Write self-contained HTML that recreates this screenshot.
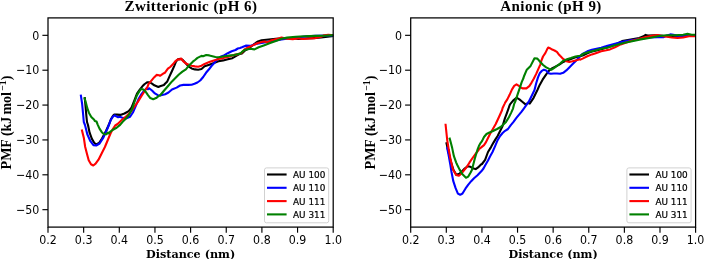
<!DOCTYPE html><html><head><meta charset="utf-8"><style>html,body{margin:0;padding:0;background:#fff;width:704px;height:259px;overflow:hidden}svg{display:block}.tk{stroke:#000;stroke-width:1.15}.tl{font-family:"DejaVu Sans",sans-serif;font-size:11.3px;fill:#000}.ti{font-family:"Liberation Serif",serif;font-weight:bold;font-size:15px;letter-spacing:0.47px;fill:#000}.xl{font-family:"DejaVu Serif",serif;font-weight:bold;font-size:11.2px;fill:#000}.yl{font-family:"Liberation Serif",serif;font-weight:bold;font-size:14px;fill:#000}.lg{font-family:"DejaVu Sans",sans-serif;font-size:8.9px;fill:#000;stroke:#000;stroke-width:0.2px}.c{fill:none;stroke-width:2.10;stroke-linejoin:round;stroke-linecap:square}</style></head><body>
<svg width="704" height="259" viewBox="0 0 704 259">
<clipPath id="cpL"><rect x="48.0" y="17.9" width="285.2" height="209.2"/></clipPath>
<g clip-path="url(#cpL)">
<polyline class="c" stroke="#000000" points="84.8,98.2 85.5,105.9 86.3,115.2 87.0,122.0 88.0,125.0 89.6,132.7 91.9,138.9 94.2,142.8 96.2,144.5 99.0,143.0 102.0,138.5 106.0,131.0 108.6,125.3 110.9,119.3 113.0,115.8 114.3,114.5 117.0,114.6 120.3,114.9 124.5,113.5 128.7,111.1 131.5,107.6 134.3,100.7 137.0,93.7 139.8,89.6 142.6,86.1 144.7,84.0 147.4,82.2 149.7,82.4 152.0,83.6 154.3,85.3 157.2,86.5 158.4,87.0 160.0,86.3 163.9,85.0 165.0,83.7 167.3,81.4 169.6,76.2 172.0,71.0 174.3,65.8 176.0,61.7 177.9,59.4 180.5,58.9 182.5,59.8 185.1,62.5 188.4,66.4 191.6,68.4 194.9,69.4 198.2,69.7 201.5,69.0 204.6,66.3 209.3,64.7 213.9,62.9 218.5,61.3 223.2,60.4 227.8,59.3 232.4,58.2 237.1,55.4 240.0,53.9 241.9,53.5 244.5,50.9 250.0,47.5 254.5,43.8 258.0,41.5 261.6,40.3 268.7,39.5 275.8,38.8 282.9,38.3 292.8,38.2 298.5,39.0 304.2,38.5 312.7,38.1 321.2,37.4 333.5,35.9"/>
<polyline class="c" stroke="#0000ff" points="80.9,95.7 82.1,103.6 83.2,115.2 83.8,122.0 85.0,125.0 87.3,134.3 90.4,141.2 93.4,145.1 96.2,145.5 99.6,143.5 103.5,137.4 106.6,130.4 107.3,129.0 108.5,126.0 110.8,119.9 113.1,116.4 114.7,115.3 116.2,116.4 118.1,117.2 120.0,116.8 121.7,117.4 125.9,118.6 130.1,116.7 132.9,112.5 135.6,106.3 138.4,99.3 141.2,94.4 144.0,91.0 146.2,88.6 148.0,89.2 149.1,88.2 152.0,90.5 154.9,93.4 157.8,95.2 160.0,95.5 165.2,94.2 168.5,92.5 172.0,89.5 176.6,87.6 180.1,85.5 183.5,84.9 188.2,84.9 191.6,84.7 194.5,83.8 197.4,82.5 200.2,80.5 203.2,77.0 206.0,72.8 209.0,69.3 211.5,66.0 213.8,63.5 217.0,59.6 220.1,57.0 224.4,55.2 227.8,53.2 231.7,51.3 235.5,50.0 237.8,48.5 240.0,48.0 241.9,47.3 245.7,45.8 245.9,45.6 250.2,45.9 255.9,43.9 264.4,42.4 272.9,40.9 281.5,39.5 290.0,38.3 298.5,37.2 307.0,36.3 315.5,35.7 333.5,35.4"/>
<polyline class="c" stroke="#ff0000" points="82.0,130.6 83.8,137.7 85.2,147.0 87.0,153.9 88.7,160.3 91.0,164.3 93.3,165.5 95.6,163.7 98.5,159.7 102.0,152.7 104.9,147.0 107.8,140.0 110.5,133.5 112.7,129.3 115.2,125.5 117.6,124.0 120.0,121.7 121.7,120.0 125.9,116.7 130.1,112.5 134.3,106.9 137.7,102.1 141.2,96.5 144.7,91.0 147.5,86.8 148.5,84.2 151.4,80.7 154.3,77.2 156.6,74.9 159.0,75.2 159.4,75.4 160.0,75.8 163.9,73.2 165.0,72.7 167.9,68.7 170.2,67.0 173.1,64.1 175.4,61.2 177.9,59.4 179.8,59.4 181.1,58.5 183.1,61.1 185.9,63.5 189.9,65.2 191.6,65.7 194.9,66.4 198.2,66.8 201.5,65.7 204.6,63.9 209.3,62.1 213.9,60.4 218.5,59.0 223.2,58.1 227.8,57.0 232.4,55.4 237.1,54.4 240.0,53.6 241.9,52.7 244.5,49.5 248.0,47.5 251.6,45.9 257.3,43.2 262.7,41.8 264.4,41.6 267.3,42.3 271.5,40.2 278.6,38.5 281.5,37.6 287.1,38.7 292.8,39.1 298.5,38.2 302.8,39.0 309.9,38.5 315.5,38.1 321.2,36.7 324.1,35.3 328.3,34.8 333.5,35.2"/>
<polyline class="c" stroke="#008000" points="84.6,98.4 86.1,103.6 87.3,108.2 89.0,112.9 91.3,116.9 94.2,119.8 94.8,120.9 96.5,121.5 97.7,124.6 99.5,128.7 101.8,132.2 104.1,134.2 106.4,134.2 108.0,132.5 108.9,133.5 110.0,131.8 112.5,130.0 116.6,127.8 120.1,124.9 123.5,120.9 124.5,120.0 128.7,115.3 132.2,109.0 134.9,100.7 137.0,95.1 139.1,91.6 141.2,88.9 143.3,89.6 146.1,92.3 148.0,95.1 150.3,98.1 153.2,99.2 156.1,98.1 159.0,95.7 160.0,95.5 165.0,89.5 168.5,85.5 172.0,81.4 175.4,78.0 178.9,74.5 182.4,71.6 185.9,69.3 189.3,65.2 192.8,61.7 195.0,60.0 197.5,57.9 201.5,55.9 203.1,56.2 206.2,55.0 209.3,55.4 212.4,56.2 215.4,57.0 218.5,57.3 221.6,56.7 224.7,56.2 227.8,55.9 230.9,55.4 234.0,55.1 237.1,54.2 240.0,53.6 241.7,52.2 241.9,51.9 244.5,50.1 250.2,48.7 254.5,49.4 258.7,47.3 264.4,45.2 270.1,43.0 275.8,40.9 278.5,39.9 281.5,38.8 287.1,37.6 295.7,36.7 304.2,36.2 315.5,35.9 324.1,35.7 333.5,35.2"/>
</g>
<line x1="48.00" y1="227.10" x2="48.00" y2="232.70" class="tk"/>
<text transform="translate(48.00,244.30) scale(0.98,1.08)" class="tl" text-anchor="middle">0.2</text>
<line x1="83.65" y1="227.10" x2="83.65" y2="232.70" class="tk"/>
<text transform="translate(83.65,244.30) scale(0.98,1.08)" class="tl" text-anchor="middle">0.3</text>
<line x1="119.30" y1="227.10" x2="119.30" y2="232.70" class="tk"/>
<text transform="translate(119.30,244.30) scale(0.98,1.08)" class="tl" text-anchor="middle">0.4</text>
<line x1="154.95" y1="227.10" x2="154.95" y2="232.70" class="tk"/>
<text transform="translate(154.95,244.30) scale(0.98,1.08)" class="tl" text-anchor="middle">0.5</text>
<line x1="190.60" y1="227.10" x2="190.60" y2="232.70" class="tk"/>
<text transform="translate(190.60,244.30) scale(0.98,1.08)" class="tl" text-anchor="middle">0.6</text>
<line x1="226.25" y1="227.10" x2="226.25" y2="232.70" class="tk"/>
<text transform="translate(226.25,244.30) scale(0.98,1.08)" class="tl" text-anchor="middle">0.7</text>
<line x1="261.90" y1="227.10" x2="261.90" y2="232.70" class="tk"/>
<text transform="translate(261.90,244.30) scale(0.98,1.08)" class="tl" text-anchor="middle">0.8</text>
<line x1="297.55" y1="227.10" x2="297.55" y2="232.70" class="tk"/>
<text transform="translate(297.55,244.30) scale(0.98,1.08)" class="tl" text-anchor="middle">0.9</text>
<line x1="333.20" y1="227.10" x2="333.20" y2="232.70" class="tk"/>
<text transform="translate(333.20,244.30) scale(0.98,1.08)" class="tl" text-anchor="middle">1.0</text>
<line x1="42.40" y1="35.33" x2="48.00" y2="35.33" class="tk"/>
<text transform="translate(39.40,39.53) scale(0.98,1.08)" class="tl" text-anchor="end">0</text>
<line x1="42.40" y1="70.20" x2="48.00" y2="70.20" class="tk"/>
<text transform="translate(39.40,74.40) scale(0.98,1.08)" class="tl" text-anchor="end">−10</text>
<line x1="42.40" y1="105.07" x2="48.00" y2="105.07" class="tk"/>
<text transform="translate(39.40,109.27) scale(0.98,1.08)" class="tl" text-anchor="end">−20</text>
<line x1="42.40" y1="139.93" x2="48.00" y2="139.93" class="tk"/>
<text transform="translate(39.40,144.13) scale(0.98,1.08)" class="tl" text-anchor="end">−30</text>
<line x1="42.40" y1="174.80" x2="48.00" y2="174.80" class="tk"/>
<text transform="translate(39.40,179.00) scale(0.98,1.08)" class="tl" text-anchor="end">−40</text>
<line x1="42.40" y1="209.67" x2="48.00" y2="209.67" class="tk"/>
<text transform="translate(39.40,213.87) scale(0.98,1.08)" class="tl" text-anchor="end">−50</text>
<rect x="48.0" y="17.9" width="285.2" height="209.2" fill="none" stroke="#000" stroke-width="1.25"/>
<text x="191.00" y="10.5" class="ti" text-anchor="middle">Zwitterionic (pH 6)</text>
<text x="190.60" y="257.8" class="xl" text-anchor="middle">Distance (nm)</text>
<text transform="translate(11.20,122.50) rotate(-90)" class="yl" text-anchor="middle">PMF (kJ <tspan dx="-1.4">mol</tspan><tspan dx="1.3" dy="-5.5" font-size="9.8px">−1</tspan><tspan dy="5.5">)</tspan></text>
<rect x="264.50" y="167.90" width="64.2" height="54.9" rx="2" fill="#fff" fill-opacity="0.8" stroke="#cccccc" stroke-width="0.9"/>
<line x1="267.00" y1="174.50" x2="286.60" y2="174.50" stroke="#000000" stroke-width="2.1"/>
<text x="293.00" y="178.00" class="lg">AU 100</text>
<line x1="267.00" y1="187.80" x2="286.60" y2="187.80" stroke="#0000ff" stroke-width="2.1"/>
<text x="293.00" y="191.30" class="lg">AU 110</text>
<line x1="267.00" y1="201.10" x2="286.60" y2="201.10" stroke="#ff0000" stroke-width="2.1"/>
<text x="293.00" y="204.60" class="lg">AU 111</text>
<line x1="267.00" y1="214.40" x2="286.60" y2="214.40" stroke="#008000" stroke-width="2.1"/>
<text x="293.00" y="217.90" class="lg">AU 311</text>
<clipPath id="cpR"><rect x="410.7" y="17.9" width="284.90000000000003" height="209.2"/></clipPath>
<g clip-path="url(#cpR)">
<polyline class="c" stroke="#000000" points="446.5,143.2 448.0,150.0 451.0,162.0 453.5,170.0 456.5,175.0 458.5,174.0 458.9,174.3 461.8,171.4 464.7,168.5 467.6,166.2 470.5,166.8 473.4,168.5 475.7,169.1 478.1,167.4 481.0,164.5 482.0,164.0 485.1,159.9 488.0,152.0 491.0,147.1 493.5,142.6 495.6,139.1 497.6,136.0 499.6,132.0 501.6,128.0 502.6,126.0 504.9,118.4 506.6,113.8 508.3,109.2 509.5,105.5 510.2,104.1 513.1,100.6 516.5,97.7 519.4,99.4 522.3,101.7 525.8,104.6 528.0,102.9 529.7,103.6 533.6,97.8 537.4,90.0 539.7,84.9 542.6,79.7 546.2,74.3 549.3,70.4 552.4,68.1 555.4,66.6 559.3,64.6 563.2,62.0 567.0,60.4 570.9,58.9 575.5,57.3 580.0,56.2 582.6,55.5 587.3,53.2 591.9,51.6 596.5,50.4 601.2,49.3 605.8,47.8 606.5,47.5 615.0,44.6 622.1,41.1 630.7,39.5 639.2,38.0 643.5,36.3 645.6,34.9 647.7,35.6 654.8,35.4 663.3,35.8 671.9,36.0 680.4,35.8 688.9,35.4 695.6,35.6"/>
<polyline class="c" stroke="#0000ff" points="447.2,148.0 448.6,155.0 450.4,165.0 451.5,172.0 453.3,181.2 455.6,188.2 457.9,193.6 460.2,194.8 462.5,193.5 465.4,188.7 468.3,184.7 471.2,181.2 474.0,178.3 477.5,175.3 481.3,171.3 483.5,168.5 485.1,165.5 488.0,160.5 490.0,156.5 492.5,152.0 495.1,146.1 497.6,140.1 500.1,136.0 502.6,133.0 505.1,130.8 508.0,129.0 510.6,125.4 513.5,121.9 516.6,117.7 521.4,111.9 524.0,108.4 528.8,101.7 532.6,94.0 534.5,90.0 536.2,83.2 538.0,77.4 539.7,73.3 541.5,71.2 543.9,69.7 546.2,70.4 548.5,73.2 550.8,73.8 553.9,73.5 557.0,73.5 560.1,73.8 563.2,72.8 566.3,70.4 569.3,67.4 572.4,64.3 575.5,61.2 578.6,58.1 580.2,56.0 582.6,53.9 587.3,51.3 591.9,49.8 596.5,48.8 601.2,47.8 605.8,46.2 606.5,45.9 615.0,43.8 623.6,41.6 632.1,40.1 640.6,38.7 649.1,37.4 657.7,37.3 663.3,37.2 667.0,35.5 670.4,34.4 677.5,35.6 686.1,35.6 695.6,35.4"/>
<polyline class="c" stroke="#ff0000" points="445.6,124.8 447.2,140.0 448.7,149.3 450.4,158.5 452.7,168.8 453.7,170.8 456.1,174.9 458.9,175.7 461.3,173.7 463.6,170.8 466.5,167.4 469.4,162.7 472.9,157.5 476.3,152.9 478.6,150.0 478.9,149.2 481.2,147.4 484.0,145.1 486.0,142.1 488.0,138.0 490.0,134.0 492.0,130.5 494.0,127.0 495.6,124.2 499.1,116.7 502.0,110.3 502.6,108.0 504.7,103.6 505.0,102.9 507.3,99.4 509.6,94.8 511.9,89.6 514.2,85.9 516.5,84.4 518.9,85.9 521.2,87.8 522.9,88.4 526.4,88.4 529.3,86.1 531.6,82.6 533.9,78.5 536.2,73.9 538.5,68.7 540.3,64.6 541.2,61.2 543.0,56.5 545.3,53.1 547.0,49.6 548.2,47.5 549.9,48.2 552.2,49.6 554.5,50.5 556.9,51.9 558.6,54.2 560.1,55.8 563.2,58.9 566.3,61.2 569.3,61.9 572.4,61.2 575.5,60.4 580.0,59.3 580.4,59.6 582.6,58.6 587.3,56.3 591.9,54.4 596.5,52.9 601.2,51.3 606.2,50.3 610.0,49.4 615.0,47.2 620.7,44.4 629.2,41.4 637.8,39.3 644.9,37.3 652.0,35.9 657.7,35.0 663.3,36.2 671.9,37.5 677.5,38.0 683.2,37.5 688.9,36.3 695.6,36.2"/>
<polyline class="c" stroke="#008000" points="449.7,138.6 450.4,141.0 452.2,148.1 453.9,156.2 456.2,162.6 457.3,165.0 459.6,169.6 462.5,174.3 466.0,177.7 468.3,176.6 470.6,172.5 471.9,170.0 473.3,164.5 474.7,159.0 476.1,154.3 477.5,149.7 478.9,146.0 480.5,143.1 482.0,141.1 484.0,137.0 486.5,134.0 489.5,132.5 493.0,131.0 497.1,129.0 500.6,127.0 503.1,124.8 506.0,121.9 508.9,117.3 511.2,112.6 513.0,108.6 514.3,103.6 515.4,101.2 517.7,94.2 520.0,87.3 521.7,82.1 523.5,78.0 523.9,76.5 526.8,69.7 530.6,65.9 534.5,58.2 537.4,58.6 540.3,62.0 543.1,65.0 546.2,67.4 549.3,68.9 551.6,69.7 553.9,68.1 557.0,65.8 560.1,63.5 563.2,60.9 567.0,59.3 570.9,58.1 575.5,56.5 580.0,55.8 582.4,54.7 582.6,53.9 587.3,52.4 591.9,51.3 596.5,50.1 601.2,48.8 605.8,47.8 606.5,48.0 615.0,45.2 623.6,43.0 632.1,41.2 640.6,39.4 649.1,38.0 657.7,36.3 666.2,35.3 674.7,35.2 683.2,34.8 687.5,33.9 691.7,34.7 695.6,34.8"/>
</g>
<line x1="410.70" y1="227.10" x2="410.70" y2="232.70" class="tk"/>
<text transform="translate(410.70,244.30) scale(0.98,1.08)" class="tl" text-anchor="middle">0.2</text>
<line x1="446.31" y1="227.10" x2="446.31" y2="232.70" class="tk"/>
<text transform="translate(446.31,244.30) scale(0.98,1.08)" class="tl" text-anchor="middle">0.3</text>
<line x1="481.93" y1="227.10" x2="481.93" y2="232.70" class="tk"/>
<text transform="translate(481.93,244.30) scale(0.98,1.08)" class="tl" text-anchor="middle">0.4</text>
<line x1="517.54" y1="227.10" x2="517.54" y2="232.70" class="tk"/>
<text transform="translate(517.54,244.30) scale(0.98,1.08)" class="tl" text-anchor="middle">0.5</text>
<line x1="553.15" y1="227.10" x2="553.15" y2="232.70" class="tk"/>
<text transform="translate(553.15,244.30) scale(0.98,1.08)" class="tl" text-anchor="middle">0.6</text>
<line x1="588.76" y1="227.10" x2="588.76" y2="232.70" class="tk"/>
<text transform="translate(588.76,244.30) scale(0.98,1.08)" class="tl" text-anchor="middle">0.7</text>
<line x1="624.38" y1="227.10" x2="624.38" y2="232.70" class="tk"/>
<text transform="translate(624.38,244.30) scale(0.98,1.08)" class="tl" text-anchor="middle">0.8</text>
<line x1="659.99" y1="227.10" x2="659.99" y2="232.70" class="tk"/>
<text transform="translate(659.99,244.30) scale(0.98,1.08)" class="tl" text-anchor="middle">0.9</text>
<line x1="695.60" y1="227.10" x2="695.60" y2="232.70" class="tk"/>
<text transform="translate(695.60,244.30) scale(0.98,1.08)" class="tl" text-anchor="middle">1.0</text>
<line x1="405.10" y1="35.33" x2="410.70" y2="35.33" class="tk"/>
<text transform="translate(402.10,39.53) scale(0.98,1.08)" class="tl" text-anchor="end">0</text>
<line x1="405.10" y1="70.20" x2="410.70" y2="70.20" class="tk"/>
<text transform="translate(402.10,74.40) scale(0.98,1.08)" class="tl" text-anchor="end">−10</text>
<line x1="405.10" y1="105.07" x2="410.70" y2="105.07" class="tk"/>
<text transform="translate(402.10,109.27) scale(0.98,1.08)" class="tl" text-anchor="end">−20</text>
<line x1="405.10" y1="139.93" x2="410.70" y2="139.93" class="tk"/>
<text transform="translate(402.10,144.13) scale(0.98,1.08)" class="tl" text-anchor="end">−30</text>
<line x1="405.10" y1="174.80" x2="410.70" y2="174.80" class="tk"/>
<text transform="translate(402.10,179.00) scale(0.98,1.08)" class="tl" text-anchor="end">−40</text>
<line x1="405.10" y1="209.67" x2="410.70" y2="209.67" class="tk"/>
<text transform="translate(402.10,213.87) scale(0.98,1.08)" class="tl" text-anchor="end">−50</text>
<rect x="410.7" y="17.9" width="284.90000000000003" height="209.2" fill="none" stroke="#000" stroke-width="1.25"/>
<text x="551.05" y="10.5" class="ti" text-anchor="middle">Anionic (pH 9)</text>
<text x="553.15" y="257.8" class="xl" text-anchor="middle">Distance (nm)</text>
<text transform="translate(375.10,122.50) rotate(-90)" class="yl" text-anchor="middle">PMF (kJ <tspan dx="-1.4">mol</tspan><tspan dx="1.3" dy="-5.5" font-size="9.8px">−1</tspan><tspan dy="5.5">)</tspan></text>
<rect x="626.90" y="167.90" width="64.2" height="54.9" rx="2" fill="#fff" fill-opacity="0.8" stroke="#cccccc" stroke-width="0.9"/>
<line x1="629.40" y1="174.50" x2="649.00" y2="174.50" stroke="#000000" stroke-width="2.1"/>
<text x="655.40" y="178.00" class="lg">AU 100</text>
<line x1="629.40" y1="187.80" x2="649.00" y2="187.80" stroke="#0000ff" stroke-width="2.1"/>
<text x="655.40" y="191.30" class="lg">AU 110</text>
<line x1="629.40" y1="201.10" x2="649.00" y2="201.10" stroke="#ff0000" stroke-width="2.1"/>
<text x="655.40" y="204.60" class="lg">AU 111</text>
<line x1="629.40" y1="214.40" x2="649.00" y2="214.40" stroke="#008000" stroke-width="2.1"/>
<text x="655.40" y="217.90" class="lg">AU 311</text>
</svg></body></html>
